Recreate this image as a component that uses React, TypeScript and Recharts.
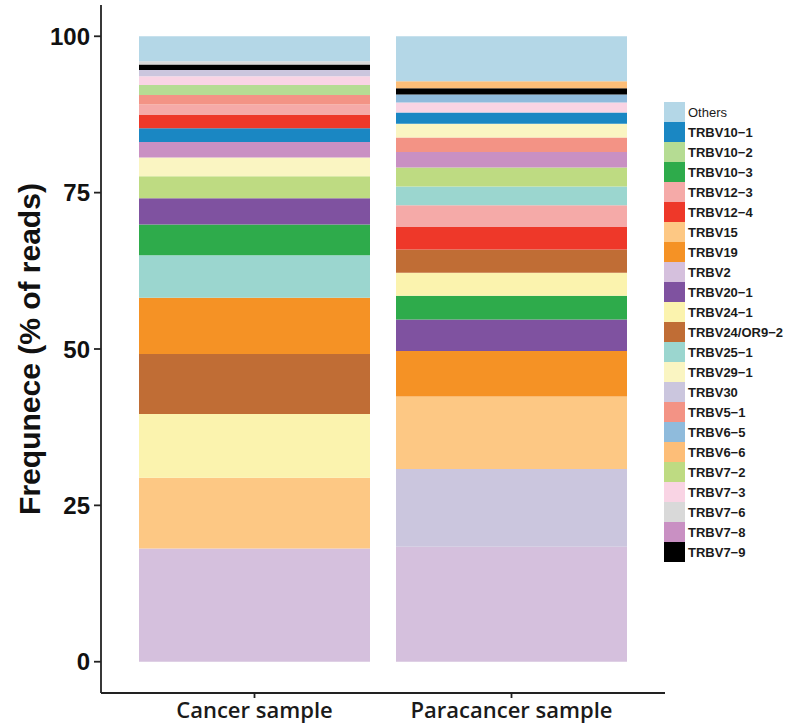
import { BarChart, Bar, XAxis, YAxis, Cell, Legend } from 'recharts';

// 样本名（x 轴分类）
const samples = ['Cancer sample', 'Paracancer sample'];

// 图例顺序的基因名和颜色
const genes = [
  'Others', 'TRBV10−1', 'TRBV10−2', 'TRBV10−3', 'TRBV12−3', 'TRBV12−4', 'TRBV15', 'TRBV19',
  'TRBV2', 'TRBV20−1', 'TRBV24−1', 'TRBV24/OR9−2', 'TRBV25−1', 'TRBV29−1', 'TRBV30',
  'TRBV5−1', 'TRBV6−5', 'TRBV6−6', 'TRBV7−2', 'TRBV7−3', 'TRBV7−6', 'TRBV7−8', 'TRBV7−9',
];
const geneColors = [
  '#b4d7e7', '#1a87c3', '#b5dc93', '#2eab4b', '#f5aaa8', '#ee3829', '#fdc884', '#f59225',
  '#d5c0dd', '#7f52a0', '#fbf3ae', '#c06d35', '#9bd6cf', '#faf5c2', '#cbc6de',
  '#f39385', '#8fbbdc', '#fdbe78', '#bedb82', '#f9d4e4', '#d9d9d9', '#c990c3', '#000000',
];

// 癌组织：从下到上的堆叠顺序和百分比
const cancerOrder = [
  'TRBV2', 'TRBV15', 'TRBV24−1', 'TRBV24/OR9−2', 'TRBV19', 'TRBV25−1', 'TRBV10−3', 'TRBV20−1',
  'TRBV7−2', 'TRBV29−1', 'TRBV7−8', 'TRBV10−1', 'TRBV12−4', 'TRBV12−3', 'TRBV5−1', 'TRBV10−2',
  'TRBV7−3', 'TRBV30', 'TRBV7−9', 'TRBV7−6', 'Others',
];
const cancerValues = [
  18.1, 11.3, 10.2, 9.6, 9.0, 6.8, 4.9, 4.2,
  3.5, 3.0, 2.5, 2.2, 2.1, 1.7, 1.5, 1.6,
  1.4, 1.0, 0.9, 0.5, 4.0,
];

// 癌旁组织：从下到上的堆叠顺序和百分比
const paraOrder = [
  'TRBV2', 'TRBV30', 'TRBV15', 'TRBV19', 'TRBV20−1', 'TRBV10−3', 'TRBV24−1', 'TRBV24/OR9−2',
  'TRBV12−4', 'TRBV12−3', 'TRBV25−1', 'TRBV7−2', 'TRBV7−8', 'TRBV5−1', 'TRBV29−1', 'TRBV10−1',
  'TRBV7−3', 'TRBV6−5', 'TRBV7−9', 'TRBV6−6', 'Others',
];
const paraValues = [
  18.4, 12.4, 11.6, 7.3, 5.0, 3.8, 3.7, 3.7,
  3.6, 3.5, 3.0, 3.0, 2.5, 2.3, 2.2, 1.8,
  1.6, 1.3, 1.0, 1.1, 7.2,
];

const yTicks = [0, 25, 50, 75, 100];

const orders = [cancerOrder, paraOrder];
const values = [cancerValues, paraValues];
const layerCount = Math.max(cancerOrder.length, paraOrder.length);

// 每个样本一行，每一层一个 key
const chartData = samples.map((sample, s) => {
  const row: Record<string, string | number> = { sample };
  for (let i = 0; i < layerCount; i++) {
    row[`l${i}`] = values[s][i] ?? 0;
  }
  return row;
});

const colorOf = (gene: string) => geneColors[genes.indexOf(gene)] ?? '#ffffff';

const axisFont = '"Liberation Sans", Arial, Helvetica, sans-serif';

function GeneLegend() {
  return (
    <div style={{ fontFamily: axisFont }}>
      {genes.map((g, i) => (
        <div key={g} style={{ display: 'flex', alignItems: 'center', height: 20 }}>
          <div style={{ width: 21, height: 20, background: geneColors[i], flexShrink: 0 }} />
          <span
            style={{
              marginLeft: 3,
              fontSize: 13,
              fontWeight: i === 0 ? 'normal' : 'bold',
              color: '#1a1a1a',
              whiteSpace: 'nowrap',
            }}
          >
            {g}
          </span>
        </div>
      ))}
    </div>
  );
}

export default function App() {
  return (
    <div style={{ position: 'absolute', left: 0, top: 0, background: '#fff' }}>
      <BarChart
        width={791}
        height={727}
        data={chartData}
        margin={{ top: 5, right: 126, bottom: 0, left: 0 }}
        barCategoryGap={13}
      >
        <XAxis
          dataKey="sample"
          padding={{ left: 25, right: 25 }}
          height={34}
          stroke="#222"
          strokeWidth={1.8}
          tickSize={5}
          tickMargin={4}
          tick={{ fontSize: 22, fontWeight: 600, fill: '#1a1a1a', fontFamily: '"Open Sans", "Noto Sans", sans-serif' }}
        />
        <YAxis
          type="number"
          domain={[-5, 105]}
          ticks={yTicks}
          allowDataOverflow
          width={101}
          stroke="#222"
          strokeWidth={1.8}
          tickSize={7}
          tickMargin={4}
          tick={{ fontSize: 24, fontWeight: 'bold', fill: '#111', fontFamily: axisFont }}
          label={{
            value: 'Frequnece (% of reads)',
            angle: -90,
            position: 'center',
            dx: -21,
            fontSize: 30,
            fontWeight: 'bold',
            fill: '#111',
            fontFamily: axisFont,
          }}
        />
        <Legend
          layout="vertical"
          align="center"
          verticalAlign="middle"
          wrapperStyle={{ left: 664, top: 102, width: 127 }}
          content={() => <GeneLegend />}
        />
        {Array.from({ length: layerCount }, (_, i) => (
          <Bar key={i} dataKey={`l${i}`} stackId="a" isAnimationActive={false}>
            {samples.map((sample, s) => (
              <Cell key={sample} fill={colorOf(orders[s][i] ?? '')} />
            ))}
          </Bar>
        ))}
      </BarChart>
    </div>
  );
}
